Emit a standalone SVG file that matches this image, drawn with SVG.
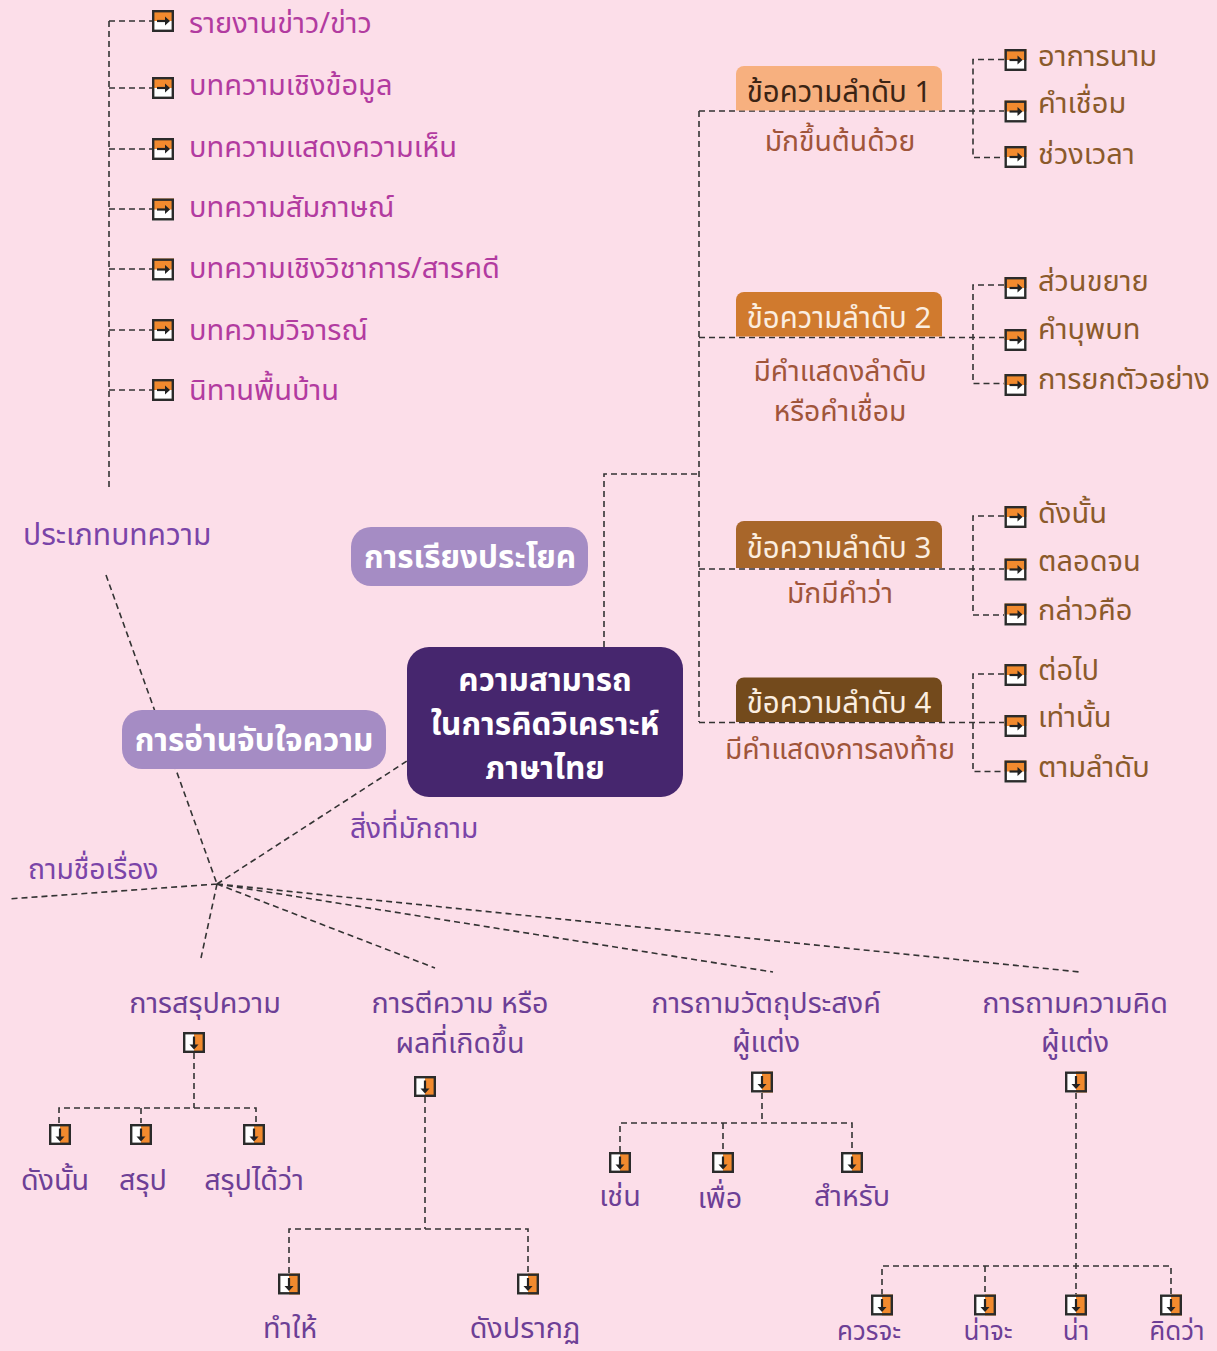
<svg xmlns="http://www.w3.org/2000/svg" width="1217" height="1351" viewBox="0 0 1217 1351">
<style>
text{font-family:"Noto Sans Thai","Noto Sans Thai UI","Noto Sans","DejaVu Sans",sans-serif;}
.dl{fill:none;stroke:#333;stroke-width:1.6;stroke-dasharray:6 4;}
.lm{font-size:29px;fill:#b23ba0;}
.rb{font-size:29px;fill:#8b5a2b;}
.sb{font-size:28.3px;fill:#a0553a;text-anchor:middle;}
.bx{font-size:29.4px;text-anchor:middle;}
.pu{font-size:28.2px;fill:#7a44a8;}
.bt{font-size:28.7px;fill:#6d3f96;text-anchor:middle;}
.bs{font-size:26px;}
.nd{font-size:31.5px;font-weight:bold;fill:#fff;text-anchor:middle;}
</style>
<defs>
<g id="ir">
<rect x="-11" y="-11" width="22" height="22" fill="#fff"/>
<rect x="-11" y="-11" width="22" height="11" fill="#f28a2e"/>
<rect x="-9.8" y="-9.8" width="19.6" height="19.6" fill="none" stroke="#2b2b2b" stroke-width="2.4"/>
<path d="M-6 0H3" stroke="#222" stroke-width="2.2"/>
<path d="M7 0L2-4.5V4.5Z" fill="#222"/>
</g>
<g id="idn">
<rect x="-11" y="-10.5" width="22" height="21" fill="#fff"/>
<rect x="0" y="-10.5" width="11" height="21" fill="#f28a2e"/>
<rect x="-9.8" y="-9.3" width="19.6" height="18.6" fill="none" stroke="#2b2b2b" stroke-width="2.4"/>
<path d="M0-6V3" stroke="#222" stroke-width="2.2"/>
<path d="M0 7L-4.5 2H4.5Z" fill="#222"/>
</g>
</defs>
<rect width="1217" height="1351" fill="#fcdee9"/>

<g id="connectors">
<path class="dl" d="M109 21V490 M109 21H152 M109 88H152 M109 149H152 M109 209H152 M109 269H152 M109 330H152 M109 390H152"/>
<path class="dl" d="M106 575L217 884 M217 884L407 761 M217 884L8 899 M217 884L201 958 M217 884L435 968 M217 884L773 972 M217 884L1080 972"/>
<path class="dl" d="M604 647V474H699 M699 111V722 M699 111H1004 M699 337.5H1004 M699 569H1004 M699 722.5H1004"/>
<path class="dl" d="M1004 59.5H973V157.5H1004 M1004 285H973V383.5H1004 M1004 516H973V615H1004 M1004 674H973V771.5H1004"/>
<path class="dl" d="M194 1053V1108 M59 1123V1108H256V1123 M141 1108V1123"/>
<path class="dl" d="M425 1097V1229 M289 1273V1229H528V1273"/>
<path class="dl" d="M762 1093V1123 M620 1152V1123H852V1152 M723 1123V1152"/>
<path class="dl" d="M1076 1093V1295 M882 1295V1266H1171V1295 M985 1266V1295"/>
</g>

<g id="left-list">
<use href="#ir" x="163" y="21"/><text class="lm" x="189" y="33">รายงานข่าว/ข่าว</text>
<use href="#ir" x="163" y="88"/><text class="lm" x="189" y="95">บทความเชิงข้อมูล</text>
<use href="#ir" x="163" y="149"/><text class="lm" x="189" y="157">บทความแสดงความเห็น</text>
<use href="#ir" x="163" y="209.5"/><text class="lm" x="189" y="217">บทความสัมภาษณ์</text>
<use href="#ir" x="163" y="269.5"/><text class="lm" x="189" y="278">บทความเชิงวิชาการ/สารคดี</text>
<use href="#ir" x="163" y="330"/><text class="lm" x="189" y="340">บทความวิจารณ์</text>
<use href="#ir" x="163" y="390"/><text class="lm" x="189" y="400">นิทานพื้นบ้าน</text>
</g>

<g id="label-types"><text class="pu" x="23" y="545" style="font-size:30px">ประเภทบทความ</text></g>
<g id="label-ask"><text class="pu" x="350" y="838">สิ่งที่มักถาม</text></g>
<g id="label-title"><text class="pu" x="28" y="879">ถามชื่อเรื่อง</text></g>

<g id="node-sentence">
<rect x="351" y="527" width="237" height="59" rx="20" fill="#a58cc4"/>
<text class="nd" x="470" y="568">การเรียงประโยค</text>
</g>
<g id="node-reading">
<rect x="122" y="710" width="264" height="59" rx="20" fill="#a58cc4"/>
<text class="nd" x="254" y="751">การอ่านจับใจความ</text>
</g>
<g id="node-center">
<rect x="407" y="647" width="276" height="150" rx="22" fill="#46266e"/>
<text class="nd" x="545" y="691">ความสามารถ</text>
<text class="nd" x="545" y="735">ในการคิดวิเคราะห์</text>
<text class="nd" x="545" y="779">ภาษาไทย</text>
</g>

<g id="step1">
<path d="M736 110.5V74a8 8 0 0 1 8-8H934a8 8 0 0 1 8 8V110.5Z" fill="#f7b07f"/>
<text class="bx" x="839" y="102" fill="#3b2414">ข้อความลำดับ 1</text>
<text class="sb" x="840" y="151">มักขึ้นต้นด้วย</text>
</g>
<g id="step2">
<path d="M736 336.5V300a8 8 0 0 1 8-8H934a8 8 0 0 1 8 8V336.5Z" fill="#d07a2e"/>
<text class="bx" x="839" y="328" fill="#fbeee0">ข้อความลำดับ 2</text>
<text class="sb" x="840" y="381">มีคำแสดงลำดับ</text>
<text class="sb" x="840" y="421">หรือคำเชื่อม</text>
</g>
<g id="step3">
<path d="M736 568V529a8 8 0 0 1 8-8H934a8 8 0 0 1 8 8V568Z" fill="#a8662a"/>
<text class="bx" x="839" y="558" fill="#fbeee0">ข้อความลำดับ 3</text>
<text class="sb" x="840" y="603">มักมีคำว่า</text>
</g>
<g id="step4">
<path d="M736 722V685.5a8 8 0 0 1 8-8H934a8 8 0 0 1 8 8V722Z" fill="#734a1c"/>
<text class="bx" x="839" y="713" fill="#fbeee0">ข้อความลำดับ 4</text>
<text class="sb" x="840" y="759">มีคำแสดงการลงท้าย</text>
</g>

<g id="right-list">
<use href="#ir" x="1015.5" y="60"/><text class="rb" x="1038" y="66">อาการนาม</text>
<use href="#ir" x="1015.5" y="111.5"/><text class="rb" x="1038" y="113">คำเชื่อม</text>
<use href="#ir" x="1015.5" y="157"/><text class="rb" x="1038" y="164">ช่วงเวลา</text>
<use href="#ir" x="1015.5" y="288"/><text class="rb" x="1038" y="291">ส่วนขยาย</text>
<use href="#ir" x="1015.5" y="340"/><text class="rb" x="1038" y="339">คำบุพบท</text>
<use href="#ir" x="1015.5" y="385"/><text class="rb" x="1038" y="389">การยกตัวอย่าง</text>
<use href="#ir" x="1015.5" y="517"/><text class="rb" x="1038" y="523">ดังนั้น</text>
<use href="#ir" x="1015.5" y="569.5"/><text class="rb" x="1038" y="571">ตลอดจน</text>
<use href="#ir" x="1015.5" y="614.5"/><text class="rb" x="1038" y="620">กล่าวคือ</text>
<use href="#ir" x="1015.5" y="675"/><text class="rb" x="1038" y="680">ต่อไป</text>
<use href="#ir" x="1015.5" y="726"/><text class="rb" x="1038" y="727">เท่านั้น</text>
<use href="#ir" x="1015.5" y="771.5"/><text class="rb" x="1038" y="777">ตามลำดับ</text>
</g>

<g id="summary">
<text class="bt" x="205" y="1013">การสรุปความ</text>
<use href="#idn" x="194" y="1042.5"/>
<use href="#idn" x="60" y="1134.5"/><text class="bt" x="55" y="1190">ดังนั้น</text>
<use href="#idn" x="141" y="1134.5"/><text class="bt" x="143" y="1190">สรุป</text>
<use href="#idn" x="254" y="1134.5"/><text class="bt" x="254" y="1190">สรุปได้ว่า</text>
</g>
<g id="interpret">
<text class="bt" x="460" y="1013">การตีความ หรือ</text>
<text class="bt" x="460" y="1053">ผลที่เกิดขึ้น</text>
<use href="#idn" x="425" y="1086.5"/>
<use href="#idn" x="289" y="1284"/><text class="bt" x="290" y="1338">ทำให้</text>
<use href="#idn" x="528" y="1284"/><text class="bt" x="525" y="1338">ดังปรากฏ</text>
</g>
<g id="purpose">
<text class="bt" x="766" y="1013">การถามวัตถุประสงค์</text>
<text class="bt" x="766" y="1052">ผู้แต่ง</text>
<use href="#idn" x="762" y="1082"/>
<use href="#idn" x="620" y="1162.5"/><text class="bt" x="620" y="1206">เช่น</text>
<use href="#idn" x="723" y="1162.5"/><text class="bt" x="720" y="1208">เพื่อ</text>
<use href="#idn" x="852" y="1162.5"/><text class="bt" x="852" y="1206">สำหรับ</text>
</g>
<g id="opinion">
<text class="bt" x="1075" y="1013">การถามความคิด</text>
<text class="bt" x="1075" y="1052">ผู้แต่ง</text>
<use href="#idn" x="1076" y="1082"/>
<use href="#idn" x="882" y="1305"/><text class="bt bs" x="869" y="1340">ควรจะ</text>
<use href="#idn" x="985" y="1305"/><text class="bt bs" x="988" y="1340">น่าจะ</text>
<use href="#idn" x="1076" y="1305"/><text class="bt bs" x="1076" y="1340">น่า</text>
<use href="#idn" x="1171" y="1305"/><text class="bt bs" x="1177" y="1340">คิดว่า</text>
</g>
</svg>
